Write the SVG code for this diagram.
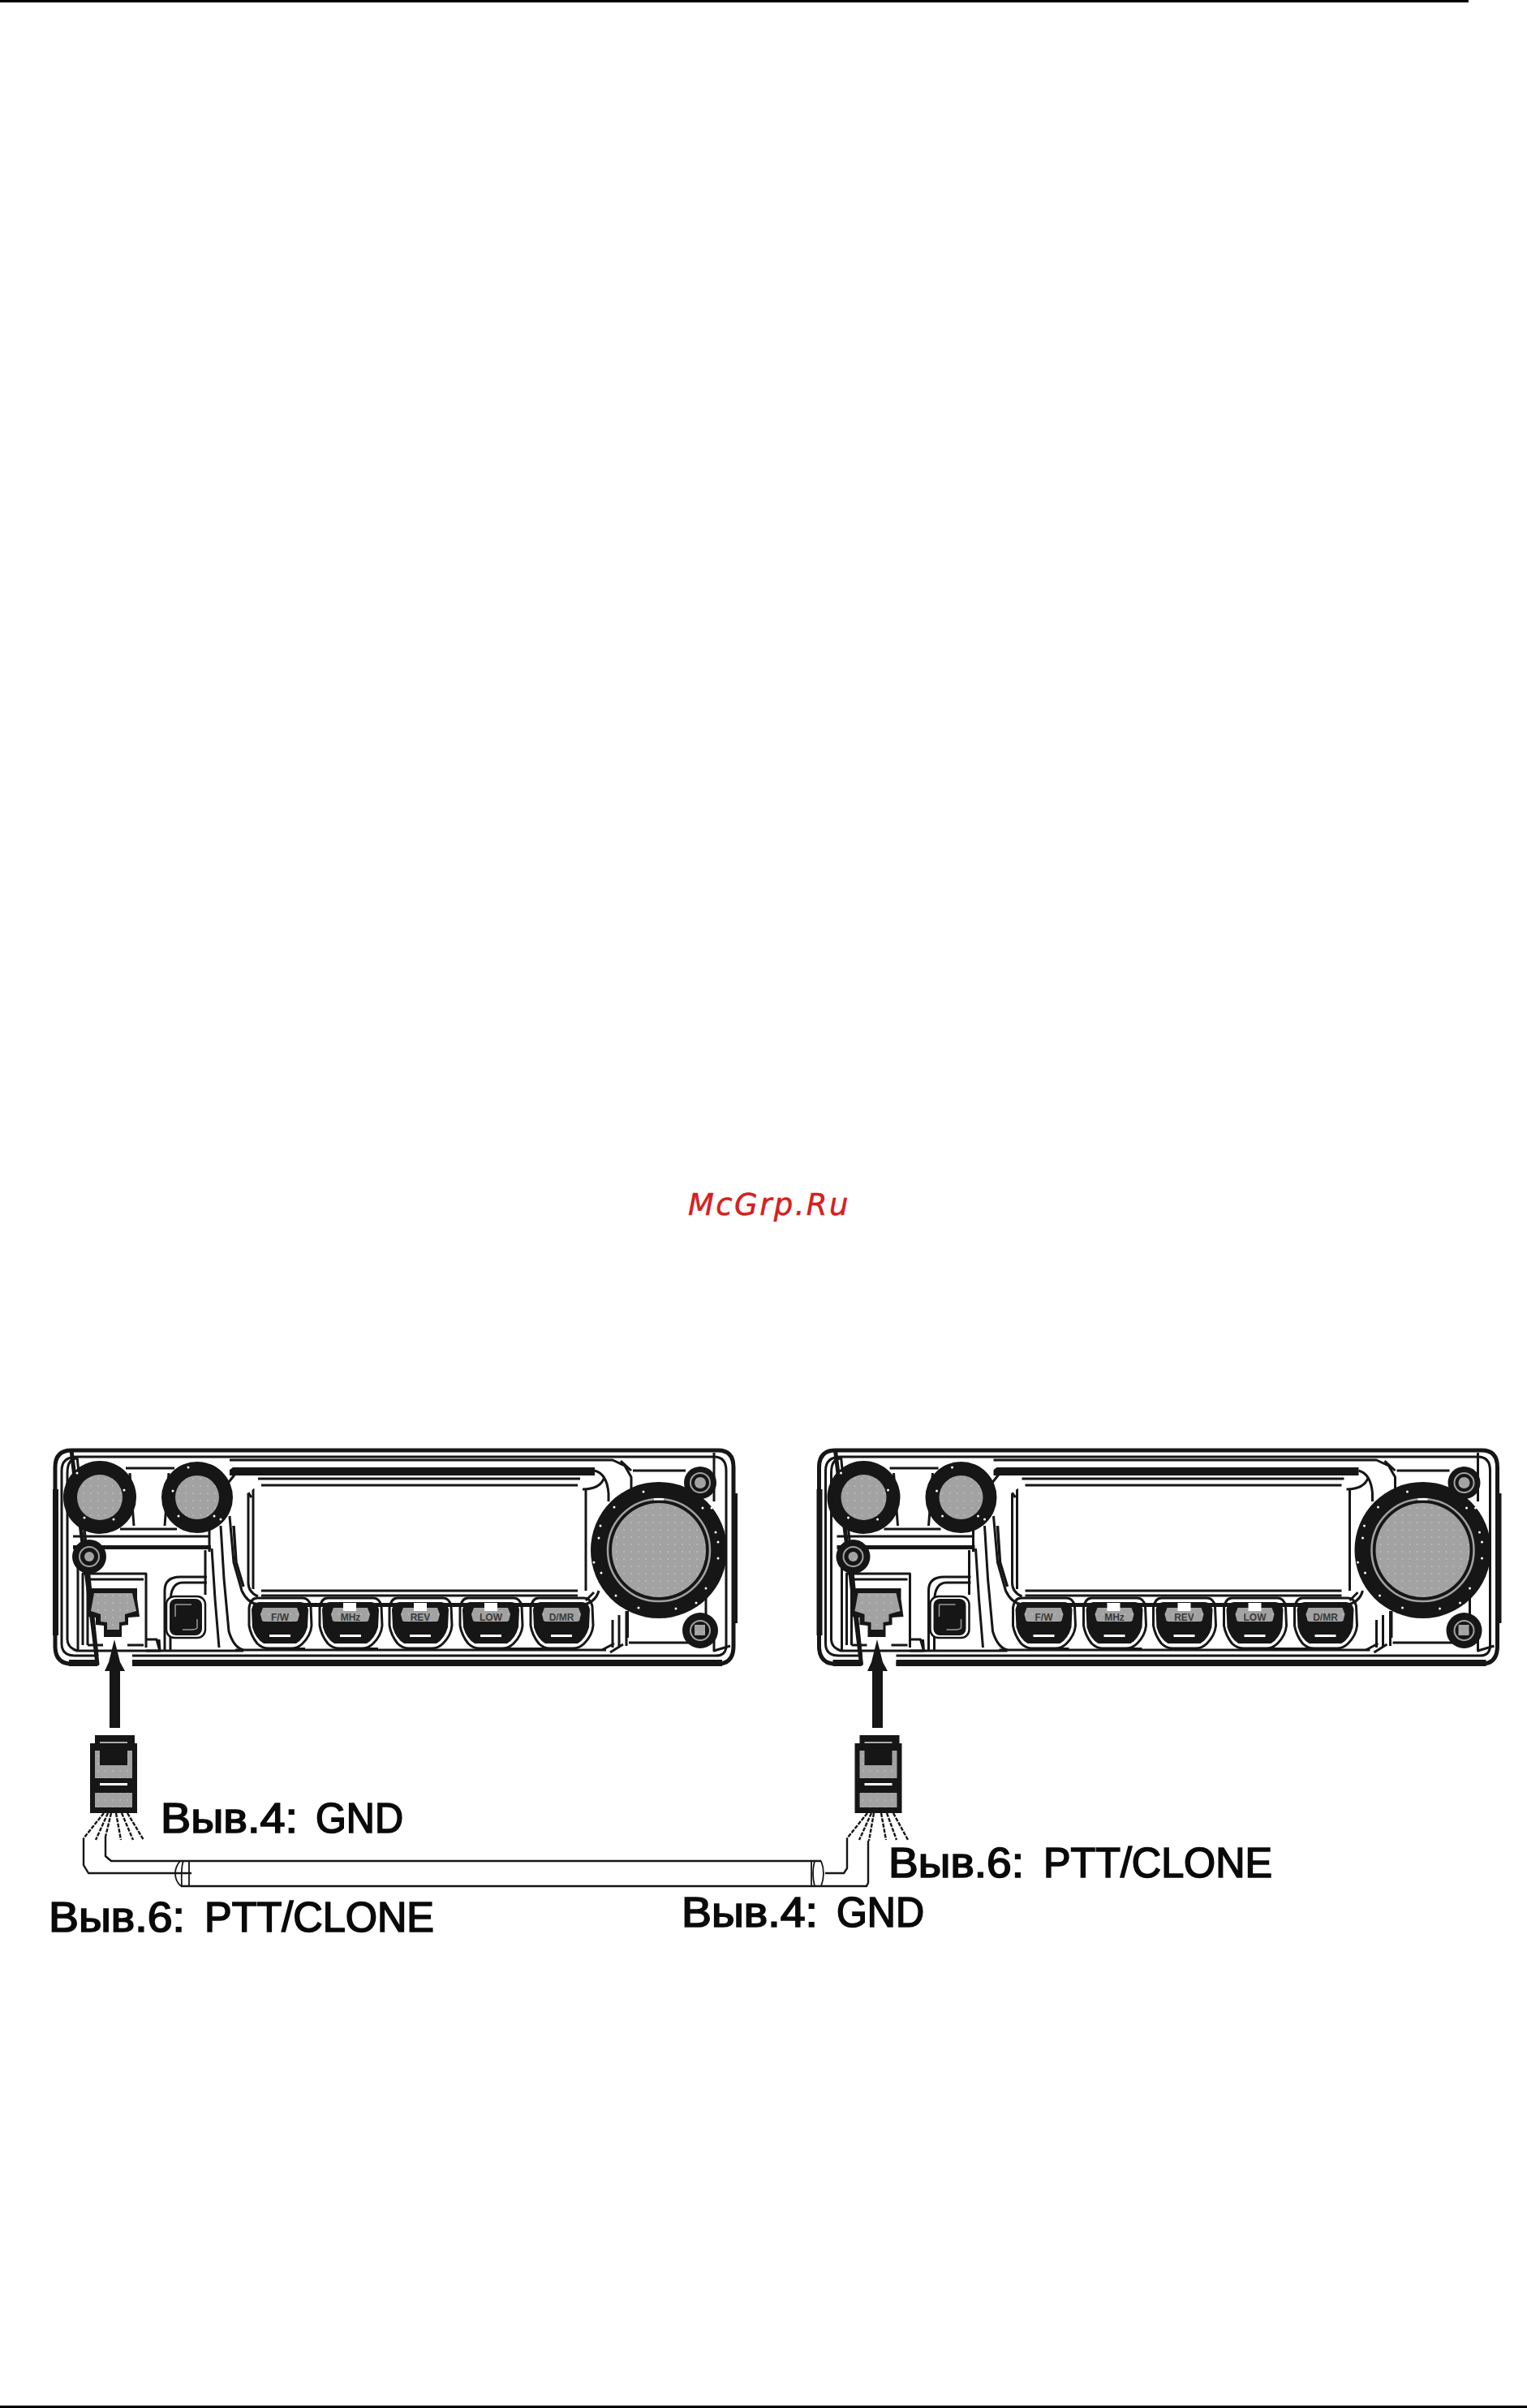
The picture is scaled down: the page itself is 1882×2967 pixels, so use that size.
<svg xmlns="http://www.w3.org/2000/svg" xmlns:xlink="http://www.w3.org/1999/xlink" width="1882" height="2967" viewBox="0 0 1882 2967">
<style>
.l{fill:none;stroke:#161616;stroke-width:3;stroke-linejoin:round;stroke-linecap:butt}
.t{fill:none;stroke:#161616;stroke-width:6;stroke-linejoin:round}
.w{fill:none;stroke:#161616;stroke-width:2.4;stroke-linejoin:round}
.f{fill:none;stroke:#161616;stroke-width:2.4;stroke-dasharray:5 1.5}
.k{fill:#161616}
.g{fill:url(#dots)}
.wh{fill:#fff}
.lab{font-family:"Liberation Sans",Arial,sans-serif;font-size:51px;fill:#0a0a0a;stroke:#0a0a0a;stroke-width:1.7}
.btn{font-family:"Liberation Sans",Arial,sans-serif;font-size:12px;font-weight:bold;fill:#3a3a3a;text-anchor:middle}
</style>
<defs>
<pattern id="dots" width="9" height="9" patternUnits="userSpaceOnUse">
<rect width="9" height="9" fill="#a2a2a2"/><rect x="3" y="3" width="2" height="2" fill="#b6b6b6"/>
</pattern>
<g id="button">
<path class="l" d="M-28,-34H28Q36,-34 38,-24L39,0Q38,12 28,22Q22,28 14,28H-14Q-22,28 -28,22Q-36,12 -38,0L-38,-22Q-36,-34 -28,-34Z"/>
<path class="k" d="M-26,-29H26Q34,-28 35,-20L34,2Q30,16 20,22H-20Q-30,16 -34,2L-35,-20Q-34,-28 -26,-29Z"/>
<path class="g" d="M-21,-22H21L24,-14L22,-6L20,-5H-20L-22,-6L-24,-14Z"/>
<rect class="wh" x="-13" y="11" width="26" height="3"/>
</g>
<g id="pip"><rect class="wh" x="-8" y="-6" width="16" height="10"/></g>
<g id="radio">
<path class="w" style="stroke-width:5" d="M88,1787H885Q904,1787 904,1808V2028Q904,2050 885,2050H163M120,2050H88Q68,2050 68,2028V1808Q68,1787 88,1787Z"/>
<rect class="k" x="65" y="1835" width="7" height="180"/>
<rect class="k" x="902" y="1840" width="7" height="160"/>
<rect class="k" x="163" y="2045" width="727" height="8"/>
<rect class="k" x="85" y="2045" width="35" height="8"/>
<path class="l" d="M95,1795H880Q895,1795 895,1812V2028Q895,2041 880,2040H163M120,2040H92Q76,2040 76,2025V1812Q76,1795 95,1795Z"/>
<path class="l" d="M283,1799H755L770,1806L778,1820V1860M765,1800L778,1812"/>
<path class="l" d="M780,1812H845"/>
<path class="l" d="M95,1797Q83,1797 83,1815V2020Q83,2030 95,2034H300"/>
<path class="l" d="M880,1850V1790M870,1960V2020"/>
<rect class="k" x="283" y="1808" width="450" height="10"/>
<path class="l" d="M318,1822H715M322,1830H712"/>
<path class="l" d="M312,1834V1958M306,1838V1950Q306,1962 318,1967"/>
<path class="l" d="M722,1836V1960"/>
<path class="l" d="M322,1960H712M322,1966H712"/>
<rect class="k" x="312" y="1975" width="405" height="5"/>
<path class="l" d="M283,1868L288,1925L298,1960Q305,1975 318,1977"/>
<path class="t" style="stroke-width:3.5" d="M288,1880L291,1925L300,1955"/>
<path class="l" d="M733,1812Q748,1816 750,1840V1850M718,1835Q740,1835 745,1820"/>
<path class="l" d="M738,1960Q734,1975 716,1978M732,1962L722,1972"/>
<path class="l" d="M290,1816L275,1835M296,1826L310,1845"/>
<path class="l" d="M90,1893H258M258,1880V1912"/>
<rect class="k" x="90" y="1904" width="170" height="5"/>
<path class="l" d="M253,1910V1965M261,1908L265,1970L270,2030M272,1880L276,1945L282,2010Q288,2030 300,2033"/>
<path class="l" d="M155,1809H215M148,1884H218M160,1815L165,1880M208,1815L203,1880"/>
<path class="l" d="M102,2027V1939H180V2030M108,2027V1946H177"/>
<path class="l" d="M108,2027H127M157,2027H177M180,2034H197L193,2020H180M197,2034L196,2020"/>
<path class="l" d="M96,1920V2035"/>
<path class="l" d="M203,2034V1960Q203,1943 222,1943H255M210,2034V1975Q210,1950 225,1950H255"/>
<path class="l" d="M755,1996V2030M763,1990V2030M772,1985V2028M775,2024H857M742,2033L757,2025M752,2036L768,2026"/>
<path class="t" style="stroke-width:4" d="M773,1985V2018"/>
<path class="l" d="M880,2015V2034L900,2028"/>
<circle class="k" cx="123" cy="1845" r="45"/><circle class="g" cx="123" cy="1845" r="28"/>
<circle class="k" cx="243" cy="1845" r="44"/><circle class="g" cx="243" cy="1845" r="27"/>
<g class="wh"><circle cx="95" cy="1815" r="1.5"/><circle cx="153" cy="1836" r="1.5"/><circle cx="104" cy="1870" r="1.5"/><circle cx="140" cy="1872" r="1.5"/><circle cx="213" cy="1837" r="1.5"/><circle cx="232" cy="1808" r="1.5"/><circle cx="272" cy="1872" r="1.5"/><circle cx="220" cy="1868" r="1.5"/><circle cx="264" cy="1868" r="1.5"/></g>
<path class="wh" d="M268,1805L278,1797L287,1808L278,1815Z"/>
<path class="wh" d="M292,1824L305,1818L318,1830L305,1840L292,1835Z"/>
<circle class="k" cx="812" cy="1910" r="84"/>
<circle cx="812" cy="1910" r="63" fill="none" stroke="#a2a2a2" stroke-width="2.5"/>
<circle class="g" cx="812" cy="1910" r="58"/>
<g class="wh"><circle cx="793" cy="1838" r="1.5"/><circle cx="757" cy="1857" r="1.5"/><circle cx="740" cy="1880" r="1.5"/><circle cx="738" cy="1895" r="1.5"/><circle cx="732" cy="1925" r="1.5"/><circle cx="741" cy="1938" r="1.5"/><circle cx="759" cy="1966" r="1.5"/><circle cx="787" cy="1981" r="1.5"/><circle cx="833" cy="1982" r="1.5"/><circle cx="858" cy="1975" r="1.5"/><circle cx="870" cy="1957" r="1.5"/><circle cx="885" cy="1920" r="1.5"/><circle cx="885" cy="1900" r="1.5"/><circle cx="882" cy="1888" r="1.5"/><circle cx="866" cy="1858" r="1.5"/><circle cx="877" cy="1858" r="1.5"/><rect x="806" y="1846" width="12" height="2.5"/></g>
<circle class="k" cx="863" cy="1827" r="20"/><circle cx="863" cy="1827" r="12" fill="none" stroke="#a2a2a2" stroke-width="2"/><circle class="g" cx="863" cy="1827" r="7"/>
<circle class="k" cx="863" cy="2009" r="22"/><circle cx="863" cy="2009" r="12" fill="none" stroke="#a2a2a2" stroke-width="2"/><rect class="g" x="856" y="2002" width="13" height="13"/>
<circle class="k" cx="110" cy="1918" r="21"/><circle cx="110" cy="1918" r="12" fill="none" stroke="#a2a2a2" stroke-width="2"/><circle class="g" cx="110" cy="1918" r="6"/>
<polygon class="k" points="110,1957 169,1957 169,1970 172,1992 158,1993 158,2002 150,2003 150,2017 128,2017 128,2003 118,2002 118,1993 107,1992 107,1970"/>
<polygon class="g" points="116,1963 163,1963 168,1985 154,1989 154,1998 147,1999 147,2008 132,2008 132,1999 124,1998 124,1989 112,1985"/>
<rect x="205" y="1967" width="48" height="51" rx="10" fill="#fff" stroke="#161616" stroke-width="2.5"/>
<rect class="k" x="209" y="1970" width="40" height="45" rx="8"/>
<path d="M216,1977H236M216,1977V1992M243,1995V2005Q243,2008 235,2008H225" fill="none" stroke="#999" stroke-width="1.5"/>
<use xlink:href="#button" href="#button" x="345" y="2003"/>
<use xlink:href="#button" href="#button" x="432" y="2003"/>
<use xlink:href="#button" href="#button" x="518" y="2003"/>
<use xlink:href="#button" href="#button" x="605" y="2003"/>
<use xlink:href="#button" href="#button" x="692" y="2003"/>
<use xlink:href="#pip" href="#pip" x="431" y="1981"/>
<use xlink:href="#pip" href="#pip" x="518" y="1981"/>
<use xlink:href="#pip" href="#pip" x="605" y="1981"/>
<path class="l" d="M290,2033H747"/>
<rect class="k" x="330" y="2030" width="46" height="4"/><rect class="k" x="420" y="2030" width="46" height="4"/><rect class="k" x="612" y="2030" width="95" height="4"/>
</g>
</defs>

<rect width="1882" height="2967" fill="#fff"/>
<rect id="top-rule" x="0" y="0" width="1810" height="3" fill="#000"/>
<rect id="bottom-rule" x="0" y="2964" width="1882" height="3" fill="#000"/>
<text id="watermark" x="848" y="1497" font-family="'DejaVu Sans',sans-serif" font-style="italic" font-size="37" fill="#d42020" stroke="#d42020" stroke-width=".5" letter-spacing="2.4">McGrp.Ru</text>

<g id="radio-left">
<use xlink:href="#radio" href="#radio"/>
<text class="btn" x="345" y="1997">F/W</text><text class="btn" x="432" y="1997">MHz</text><text class="btn" x="518" y="1997">REV</text><text class="btn" x="605" y="1997">LOW</text><text class="btn" x="692" y="1997">D/MR</text>
</g>
<g id="radio-right" transform="translate(941.5 0)">
<use xlink:href="#radio" href="#radio"/>
<text class="btn" x="345" y="1997">F/W</text><text class="btn" x="432" y="1997">MHz</text><text class="btn" x="518" y="1997">REV</text><text class="btn" x="605" y="1997">LOW</text><text class="btn" x="692" y="1997">D/MR</text>
</g>

<g id="plug-left">
<path class="k" d="M117,2138H166V2148H169V2234H111V2148H117Z"/>
<path class="g" d="M117,2157H123V2175H157V2157H163V2191H117Z"/>
<rect class="g" x="117" y="2209" width="46" height="18"/>
<rect class="wh" x="123" y="2197" width="34" height="3"/>
<rect x="123" y="2146" width="34" height="2" fill="#aaa"/>
</g>
<g id="plug-right" transform="translate(942.5 0)">
<path class="k" d="M117,2138H166V2148H169V2234H111V2148H117Z"/>
<path class="g" d="M117,2157H123V2175H157V2157H163V2191H117Z"/>
<rect class="g" x="117" y="2209" width="46" height="18"/>
<rect class="wh" x="123" y="2197" width="34" height="3"/>
<rect x="123" y="2146" width="34" height="2" fill="#aaa"/>
</g>

<g id="connectors">
<path id="arrow-left" class="k" d="M141,2020L148,2048L154,2059H148V2129H135V2059H129L134,2048Z"/>
<path id="arrow-right" class="k" d="M1081,2020L1088,2048L1094,2059H1088V2129H1075V2059H1069L1074,2048Z"/>
<g id="fan-left">
<path class="f" d="M128,2234L103,2265"/><path class="f" d="M133,2234L118,2267"/><path class="f" d="M137,2234L130,2263"/><path class="f" d="M143,2234L149,2267"/><path class="f" d="M150,2234L164,2267"/><path class="f" d="M157,2234L177,2267"/>
</g>
<g id="fan-right">
<path class="f" d="M1069,2234L1044,2265"/><path class="f" d="M1074,2234L1059,2267"/><path class="f" d="M1077,2234L1071,2268"/><path class="f" d="M1086,2234L1092,2267"/><path class="f" d="M1093,2234L1105,2267"/><path class="f" d="M1101,2234L1119,2267"/>
</g>
<path class="w" d="M103,2265V2298L109,2308H236"/>
<path class="w" d="M130,2263V2287L137,2293H1012"/>
<path class="w" d="M223,2324H1068L1070,2320V2268"/>
<path class="w" d="M1017,2308H1040L1044,2302V2265"/>
<path class="w" d="M222,2293Q216,2300 216,2308Q216,2318 223,2324M233,2293V2324M226,2293Q223,2300 224,2324" style="stroke-width:1.8"/>
<path class="w" d="M1000,2293V2324M1012,2293Q1018,2308 1012,2324M1004,2293Q1000,2308 1004,2324" style="stroke-width:1.8"/>
</g>

<text id="label-gnd-left" class="lab"><tspan x="198" y="2258" textLength="169" lengthAdjust="spacingAndGlyphs">Выв.4:</tspan> <tspan x="389" y="2258" textLength="108" lengthAdjust="spacingAndGlyphs">GND</tspan></text>
<text id="label-ptt-left" class="lab"><tspan x="60" y="2380" textLength="168" lengthAdjust="spacingAndGlyphs">Выв.6:</tspan> <tspan x="252" y="2380" textLength="283" lengthAdjust="spacingAndGlyphs">PTT/CLONE</tspan></text>
<text id="label-ptt-right" class="lab"><tspan x="1095" y="2313" textLength="167" lengthAdjust="spacingAndGlyphs">Выв.6:</tspan> <tspan x="1286" y="2313" textLength="282" lengthAdjust="spacingAndGlyphs">PTT/CLONE</tspan></text>
<text id="label-gnd-right" class="lab"><tspan x="840" y="2374" textLength="168" lengthAdjust="spacingAndGlyphs">Выв.4:</tspan> <tspan x="1031" y="2374" textLength="108" lengthAdjust="spacingAndGlyphs">GND</tspan></text>
</svg>
